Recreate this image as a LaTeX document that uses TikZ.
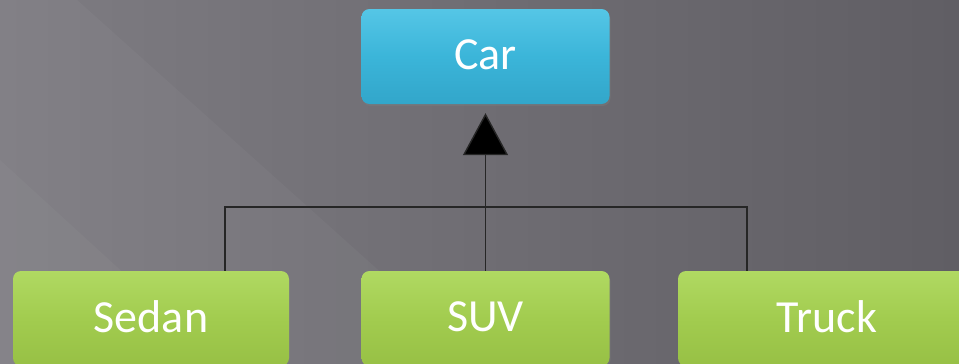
\documentclass[tikz,border=0pt]{standalone}
\usepackage{fontspec}
\setmainfont{Carlito}
\usetikzlibrary{arrows.meta,shadows}
\definecolor{bgL}{HTML}{7E7C82}
\definecolor{bgR}{HTML}{605E64}
\definecolor{carTop}{HTML}{55C6E6}
\definecolor{carMid}{HTML}{3BB5D9}
\definecolor{carBot}{HTML}{32A6CA}
\definecolor{grnTop}{HTML}{B0D962}
\definecolor{grnMid}{HTML}{A2CC4F}
\definecolor{grnBot}{HTML}{97C045}
\newcommand{\boxlbl}[1]{\raisebox{3pt}{#1}}
\tikzset{
  box/.style={rectangle, rounded corners=8pt, minimum height=95pt,
    text=white, font=\fontsize{46}{50}\selectfont, inner sep=0pt,
    drop shadow={shadow xshift=1pt, shadow yshift=-2pt, opacity=0.35}},
  parentbox/.style={box, top color=carTop, bottom color=carBot, middle color=carMid},
  childbox/.style={box, top color=grnTop, bottom color=grnBot, middle color=grnMid},
  link/.style={draw=black!85, line width=1.4pt},
}
\begin{document}
\begin{tikzpicture}[x=1pt,y=-1pt]
\useasboundingbox (0,0) rectangle (959,364);
\begin{scope}
\clip (0,0) rectangle (959,364);
\shade[left color=bgL, right color=bgR] (0,0) rectangle (959,364);
\fill[white, opacity=0.035] (0,0) -- (77,0) -- (483,364) -- (0,364) -- cycle;
\fill[white, opacity=0.03] (0,160) -- (117,267) -- (220,364) -- (0,364) -- cycle;
\node[parentbox, minimum width=248pt] (car) at (485.5,56.5) {\boxlbl{Car}};
\node[childbox, minimum width=276pt] (sedan) at (151,318.5) {\boxlbl{Sedan}};
\node[childbox, minimum width=248pt] (suv) at (485.5,318.5) {\boxlbl{SUV}};
\node[childbox, minimum width=298pt] (truck) at (827,318.5) {\boxlbl{Truck}};
\coordinate (sl) at (225,207);
\coordinate (tl) at (747,207);
\draw[link] (sl |- sedan.north) -- (sl) -- (tl) -- (tl |- truck.north);
\draw[link, shorten >=9pt, -{Triangle[width=45pt,length=42pt,fill=black]}] (suv.north) -- (car.south);
\end{scope}
\end{tikzpicture}
\end{document}
